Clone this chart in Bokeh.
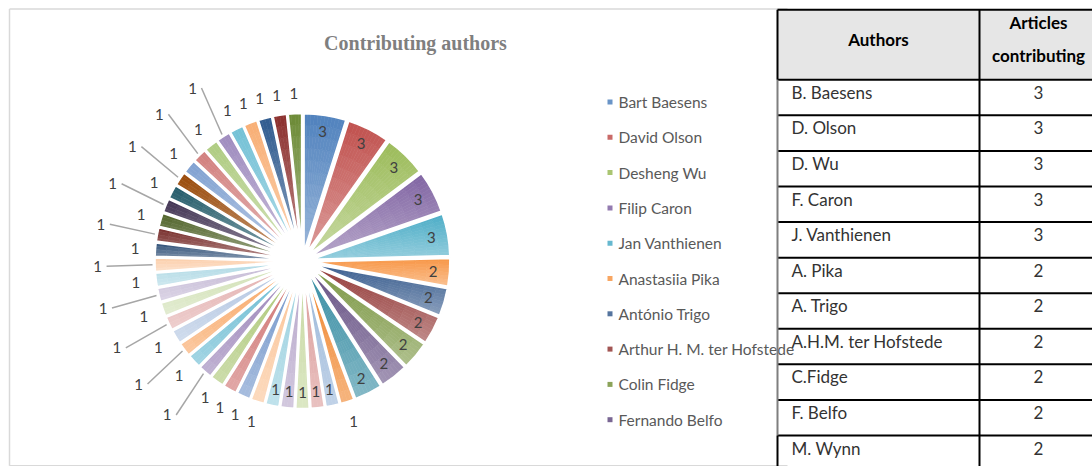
import math
import numpy as np
from bokeh.plotting import figure
from bokeh.models import Range1d
from bokeh.core.properties import value
from bokeh.embed import file_html
from bokeh.resources import INLINE

# ---------------- data ----------------
title_text = "Contributing authors"
legend_authors = ["Bart Baesens", "David Olson", "Desheng Wu", "Filip Caron", "Jan Vanthienen",
                  "Anastasiia Pika", "António Trigo", "Arthur H. M. ter Hofstede", "Colin Fidge",
                  "Fernando Belfo"]
# articles per author, pie order (clockwise from 12 o'clock)
articles = [3, 3, 3, 3, 3,
            2, 2, 2, 2, 2, 2,
            1, 1, 1, 1, 1, 1, 1, 1, 1, 1, 1, 1, 1, 1, 1, 1, 1,
            1, 1, 1, 1, 1, 1, 1, 1, 1, 1, 1, 1, 1, 1, 1, 1, 1]

table_header = ["Authors", "Articles", "contributing"]
table_authors = ["B. Baesens", "D. Olson", "D. Wu", "F. Caron", "J. Vanthienen", "A. Pika",
                 "A. Trigo", "A.H.M. ter Hofstede", "C.Fidge", "F. Belfo", "M. Wynn"]
table_articles = [3, 3, 3, 3, 3, 2, 2, 2, 2, 2, 2]

# ---------------- style ----------------
palette = ["#4F81BD", "#C0504D", "#9BBB59", "#8064A2", "#4BACC6", "#F79646",
           "#375B8D", "#923735", "#76933C", "#614B80", "#2F889F", "#EF7F22",
           "#95B3D7", "#D99694", "#C3D69B", "#B3A2C7", "#93CDDD", "#FAC090",
           "#6A8FC7", "#CC6A68", "#A8C46F", "#957DB4", "#63B8D0", "#F8A35E",
           "#AFC3E0", "#E2ADAC", "#CFDFB2", "#C3B7D4", "#ADD8E4", "#FBCDA9",
           "#2C4D75", "#772C2A", "#4F6228", "#3F3151", "#215968", "#984807",
           "#7FA0D0", "#D17F7D", "#AECB80", "#9E8BBE", "#72C0D5", "#F8AE74",
           "#2F5A8E", "#8B2F2D", "#6B8A35"]

W, H = 1092, 466


def Y(sy):
    return H - sy


def hex2rgb(h):
    h = h.lstrip("#")
    return np.array([int(h[i:i + 2], 16) for i in (0, 2, 4)], dtype=float)


def rgb2hex(c):
    c = np.clip(np.round(c), 0, 255).astype(int)
    return "#%02x%02x%02x" % tuple(c)


def mix(c, other, t):
    return c * (1 - t) + other * t


white = np.array([255.0, 255.0, 255.0])

p = figure(width=W, height=H, x_range=Range1d(0, W), y_range=Range1d(0, H),
           output_backend="svg", toolbar_location=None, min_border=0)
p.axis.visible = False
p.grid.visible = False
p.outline_line_color = None
p.background_fill_color = "white"
p.border_fill_color = "white"

# chart frame (right edge hidden under the table)
fx0, fx1, fy0, fy1 = 9.0, 787.0, 8.5, 465.3
p.segment(x0=[fx0, fx0, fx0], x1=[fx1, fx1, fx0], y0=[Y(fy0), Y(fy1), Y(fy0)],
          y1=[Y(fy0), Y(fy1), Y(fy1)], line_color="#D9D9D9", line_width=1.5)

# title
p.text(x=[415], y=[Y(42)], text=[title_text], text_align="center", text_baseline="middle",
       text_font=value("Liberation Serif"), text_font_style="bold", text_font_size="20px",
       text_color="#7F7F7F")

# ---------------- pie ----------------
cx, cy = 302.0, Y(260.5)
R, D = 141.0, 7.0
vals = np.array(articles, dtype=float)
cum = np.concatenate([[0], np.cumsum(vals)]) / vals.sum()
starts = np.pi / 2 - 2 * np.pi * cum[1:]
ends = np.pi / 2 - 2 * np.pi * cum[:-1]
mids = (starts + ends) / 2
ox = cx + D * np.cos(mids)
oy = cy + D * np.sin(mids)

cells = dict(x=[], y=[], ri=[], ro=[], sa=[], ea=[], c=[])
for i in range(len(vals)):
    top = hex2rgb(palette[i])
    bot = mix(top, white, 0.42)
    span = ends[i] - starts[i]
    samp = np.linspace(starts[i], ends[i], 40)
    ys = np.concatenate([[oy[i]], oy[i] + R * np.sin(samp)])
    ytop, ybot = ys.max(), ys.min()
    na = max(3, int(round(math.degrees(span) / 1.5)))
    nr = 12
    for ia in range(na):
        a_s = starts[i] + span * ia / na
        a_e = starts[i] + span * (ia + 1) / na
        for ir in range(nr):
            r_in = R * ir / nr
            r_out = R * (ir + 1) / nr
            yc = oy[i] + (r_in + r_out) / 2 * math.sin((a_s + a_e) / 2)
            t = (ytop - yc) / max(ytop - ybot, 1e-6)
            cells["x"].append(ox[i]); cells["y"].append(oy[i])
            cells["ri"].append(r_in); cells["ro"].append(r_out)
            cells["sa"].append(a_s); cells["ea"].append(a_e)
            cells["c"].append(rgb2hex(mix(top, bot, t)))

p.annular_wedge(x="x", y="y", inner_radius="ri", outer_radius="ro", start_angle="sa",
                end_angle="ea", fill_color="c", line_color="c", line_width=0.6, source=cells)
p.wedge(x=list(ox), y=list(oy), radius=R, start_angle=list(starts), end_angle=list(ends),
        fill_alpha=0, line_color="white", line_width=2.6)
# clean hole where the exploded slices meet
p.circle(x=[cx], y=[cy], radius=11, fill_color="white", line_color=None)

# data labels (best-fit style)
lab_x, lab_y, lab_t = [], [], []
lead_xs, lead_ys = [], []
for i, v in enumerate(articles):
    m = mids[i]
    deg = math.degrees(m)
    near_vertical = min(abs(deg - 90), abs(deg + 90), abs(deg - 270)) < 15
    if v >= 2 or near_vertical:
        rl = 131
        lx, ly = cx + rl * math.cos(m), cy + rl * math.sin(m)
    else:
        far = math.cos(m) < -0.5 and (i + 1) % 2 == 0
        rl = 205 if far else 168
        lx, ly = cx + rl * math.cos(m), cy + rl * math.sin(m)
        if far:
            r0 = R + D + 2
            lead_xs.append([cx + r0 * math.cos(m), lx + 9])
            lead_ys.append([cy + r0 * math.sin(m), ly])
    lab_x.append(lx); lab_y.append(ly); lab_t.append(str(v))

p.multi_line(xs=lead_xs, ys=lead_ys, line_color="#A6A6A6", line_width=1.5)
p.text(x=lab_x, y=lab_y, text=lab_t, text_align="center", text_baseline="middle",
       text_font=value("Lato"), text_font_size="15px", text_color="#404040")

# ---------------- legend ----------------
leg_y = [Y(101.5 + k * 35.3) for k in range(len(legend_authors))]
leg_c = [rgb2hex(mix(hex2rgb(palette[k]), white, 0.15)) for k in range(len(legend_authors))]
p.rect(x=[609.5] * len(leg_y), y=leg_y, width=5, height=5, fill_color=leg_c, line_color=None)
p.text(x=[618] * len(leg_y), y=leg_y, text=legend_authors, text_align="left",
       text_baseline="middle", text_font=value("Lato"), text_font_size="15.5px",
       text_color="#595959")

# ---------------- table ----------------
t_left, t_mid, t_right = 777.0, 979.0, 1100.0
t_top, h_bot, row_h = 9.3, 79.3, 35.57
p.quad(left=[t_left], right=[t_right], top=[Y(t_top)], bottom=[Y(h_bot)],
       fill_color="#E6E6E6", line_color=None)
row_lines = [h_bot + k * row_h for k in range(len(table_authors))]
p.segment(x0=[t_left] * (len(row_lines) + 1), x1=[t_right] * (len(row_lines) + 1),
          y0=[Y(t_top)] + [Y(v) for v in row_lines], y1=[Y(t_top)] + [Y(v) for v in row_lines],
          line_color="black", line_width=2)
p.segment(x0=[t_mid], x1=[t_mid], y0=[Y(t_top)], y1=[Y(470)], line_color="black", line_width=2)
p.segment(x0=[t_left], x1=[t_left], y0=[Y(t_top)], y1=[Y(h_bot)], line_color="black", line_width=2)
p.segment(x0=[t_left], x1=[t_left], y0=[Y(h_bot)], y1=[Y(row_lines[-1])], line_color="#7F7F7F",
          line_width=2)
p.segment(x0=[t_left], x1=[t_left], y0=[Y(row_lines[-1])], y1=[Y(470)], line_color="black",
          line_width=2)

p.text(x=[(t_left + t_mid) / 2, 1038, 1038], y=[Y(38.5), Y(21.7), Y(55)], text=table_header,
       text_align="center", text_baseline="middle", text_font=value("Lato"),
       text_font_style="bold", text_font_size="17px", text_color="black")
row_y = [Y(v + 12.6) for v in row_lines]
p.text(x=[791] * len(row_y), y=row_y, text=table_authors, text_align="left",
       text_baseline="middle", text_font=value("Lato"), text_font_size="17px",
       text_color="#333333")
p.text(x=[1038] * len(row_y), y=row_y, text=[str(v) for v in table_articles],
       text_align="center", text_baseline="middle", text_font=value("Lato"),
       text_font_size="17px", text_color="#333333")

open("out.html", "w").write(file_html(p, INLINE))
